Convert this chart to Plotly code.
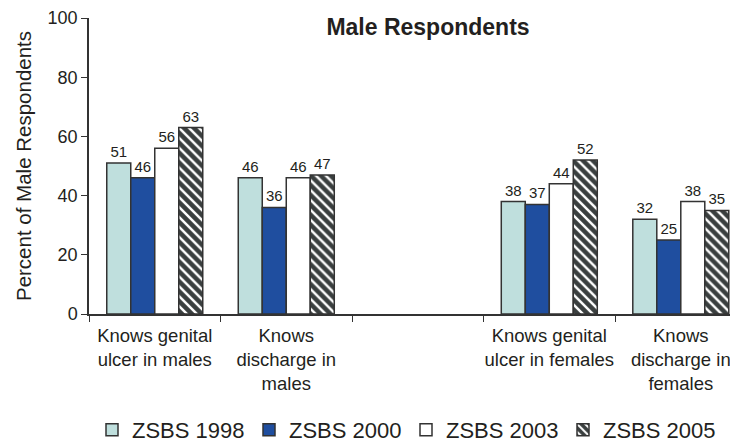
import plotly.graph_objects as go

categories = ["Knows genital<br>ulcer in males", "Knows<br>discharge in<br>males", " ",
              "Knows genital<br>ulcer in females", "Knows<br>discharge in<br>females"]
series_names = ["ZSBS 1998", "ZSBS 2000", "ZSBS 2003", "ZSBS 2005"]
zsbs_1998 = [51, 46, None, 38, 32]
zsbs_2000 = [46, 36, None, 37, 25]
zsbs_2003 = [56, 46, None, 44, 38]
zsbs_2005 = [63, 47, None, 52, 35]

FONT = "Liberation Sans, Arial, sans-serif"
TXT = "#231f20"
OUTLINE = dict(color="#333333", width=1.5)

# page body has an 8px margin; compensate so the plot lands where the reference's does
OFF = 8
W, H = 738 - OFF, 444 - OFF

fig = go.Figure()
styles = [
    dict(color="#bfdfdd", line=OUTLINE),
    dict(color="#1f4e9f", line=OUTLINE),
    dict(color="#ffffff", line=OUTLINE),
    dict(color="#3a3f3f", line=OUTLINE,
         pattern=dict(shape="\\", fgcolor="#ffffff", bgcolor="#3a3f3f",
                      size=7, solidity=0.35, fillmode="replace")),
]
for name, vals, mk in zip(series_names, [zsbs_1998, zsbs_2000, zsbs_2003, zsbs_2005], styles):
    fig.add_trace(go.Bar(
        x=categories, y=vals, name=name, marker=mk,
        text=[("" if v is None else str(v)) for v in vals],
        textposition="outside", cliponaxis=False,
        textfont=dict(family=FONT, size=15, color=TXT),
    ))

fig.update_layout(
    width=W, height=H,
    margin=dict(l=89 - OFF, r=0, t=18 - OFF, b=130, autoexpand=False),
    paper_bgcolor="white", plot_bgcolor="white",
    barmode="group", bargap=0.27, bargroupgap=0,
    font=dict(family=FONT, color=TXT),
    title=dict(text="<b>Male Respondents</b>", x=(428 - OFF) / W, xanchor="center",
               y=1 - (27 - OFF) / H, yanchor="middle",
               font=dict(family=FONT, size=23, color=TXT)),
    showlegend=True,
    legend=dict(orientation="h", x=(92 - 89) / 649, xanchor="left",
                y=(314 - 430) / 296, yanchor="middle",
                font=dict(family=FONT, size=22, color=TXT),
                entrywidth=112, entrywidthmode="pixels",
                itemwidth=30, traceorder="normal", tracegroupgap=0),
)
fig.update_xaxes(
    type="category", range=[-0.5, 4.435], automargin=False, tickangle=0,
    showline=True, linecolor="#333333", linewidth=1.5,
    ticks="outside", tickson="boundaries", ticklen=6, tickcolor="#333333",
    ticklabelstandoff=4,
    tickfont=dict(family=FONT, size=18.5, color=TXT),
    showgrid=False, zeroline=False,
)
fig.update_yaxes(
    range=[0, 100], tickvals=[0, 20, 40, 60, 80, 100], automargin=False,
    showline=True, linecolor="#333333", linewidth=1.5,
    ticks="outside", ticklen=6, tickcolor="#333333",
    tickfont=dict(family=FONT, size=18, color=TXT),
    showgrid=False, zeroline=False,
    title=dict(text="Percent of Male Respondents", font=dict(family=FONT, size=20.5, color=TXT),
               standoff=10),
)

fig.write_html("out.html")
